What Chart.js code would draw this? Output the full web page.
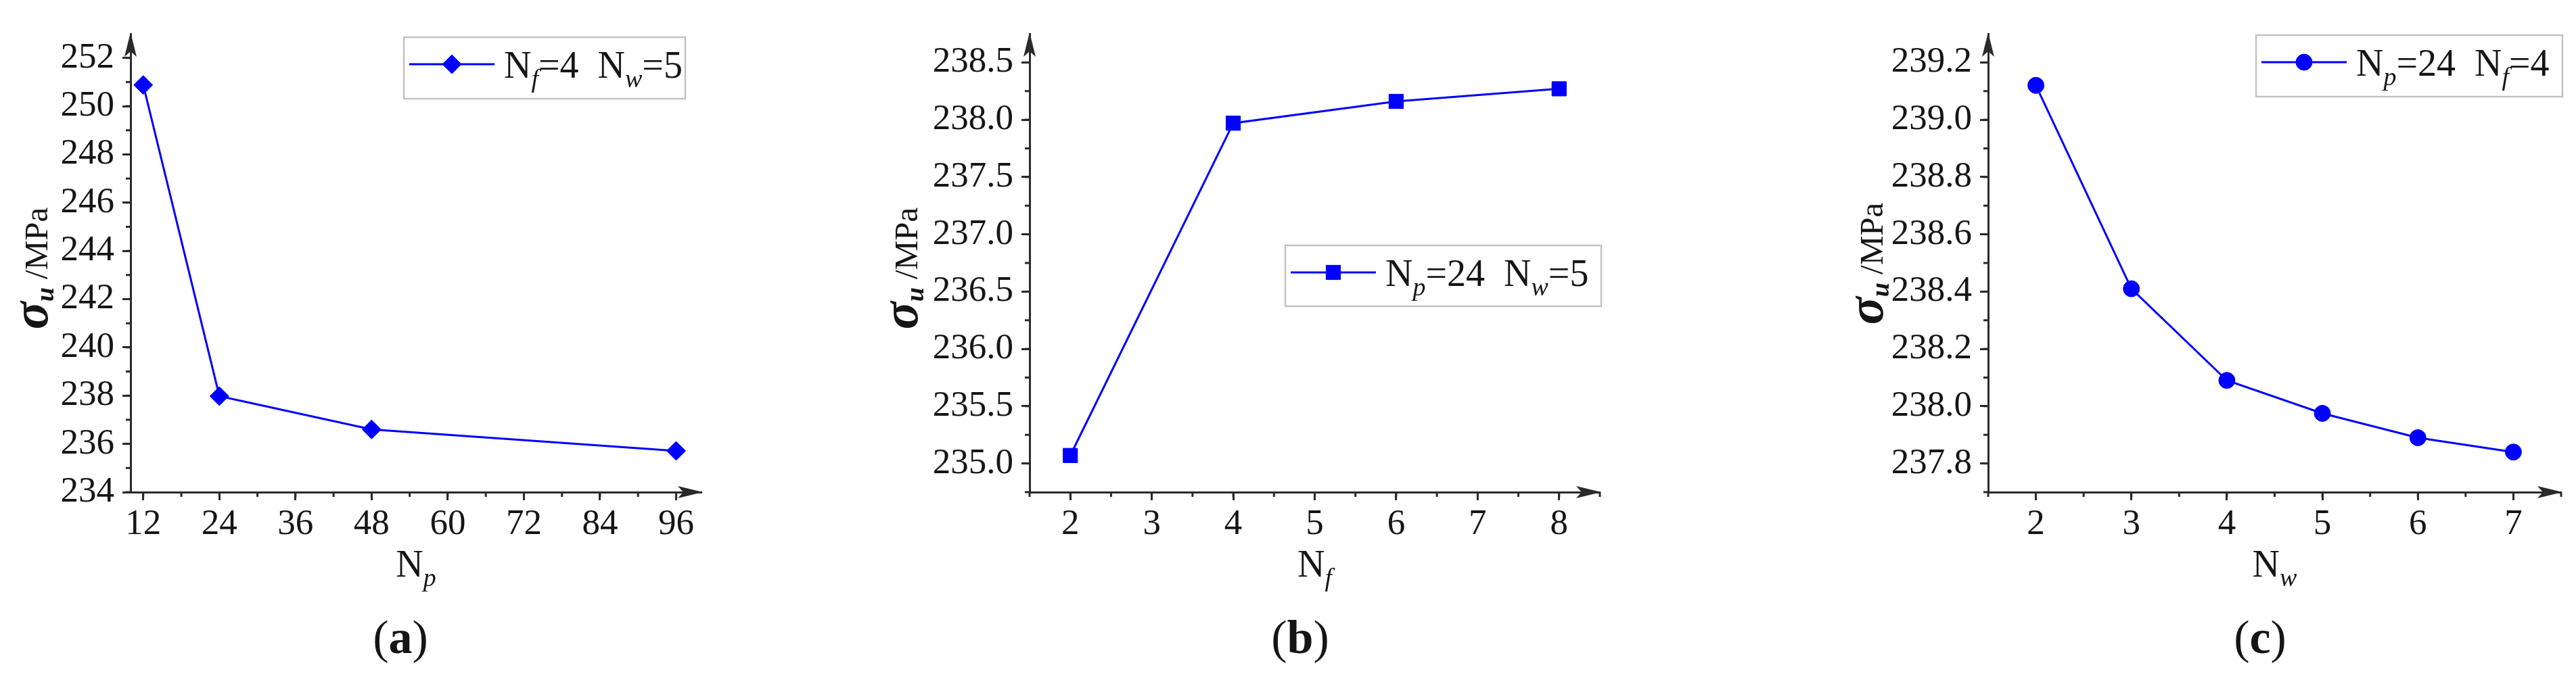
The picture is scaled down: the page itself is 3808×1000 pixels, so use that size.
<!DOCTYPE html>
<html>
<head>
<meta charset="utf-8">
<script src="https://cdn.jsdelivr.net/npm/chart.js@4.4.0/dist/chart.umd.min.js"></script>
<style>
    html, body { margin: 0; padding: 0; background: #fff; }
    #wrap { position: relative; width: 3808px; height: 1000px; }
    canvas { position: absolute; top: 0; }
</style>
</head>
<body>
<div id="wrap">
    <canvas id="chartA" width="1270" height="1000" style="left:0px"></canvas>
    <canvas id="chartB" width="1270" height="1000" style="left:1270px"></canvas>
    <canvas id="chartC" width="1268" height="1000" style="left:2540px"></canvas>
</div>
<script>
// (a) sigma_u vs N_p
var npValues = [12, 24, 48, 96]
var sigmaByNp = [250.88, 237.98, 236.6, 235.71]
var npTicks = [12, 24, 36, 48, 60, 72, 84, 96]
var sigmaTicksA = [234, 236, 238, 240, 242, 244, 246, 248, 250, 252]

// (b) sigma_u vs N_f
var nfValues = [2, 4, 6, 8]
var sigmaByNf = [235.07, 237.97, 238.16, 238.27]
var nfTicks = [2, 3, 4, 5, 6, 7, 8]
var sigmaTicksB = [235.0, 235.5, 236.0, 236.5, 237.0, 237.5, 238.0, 238.5]

// (c) sigma_u vs N_w
var nwValues = [2, 3, 4, 5, 6, 7]
var sigmaByNw = [239.12, 238.41, 238.09, 237.975, 237.89, 237.84]
var nwTicks = [2, 3, 4, 5, 6, 7]
var sigmaTicksC = [237.8, 238.0, 238.2, 238.4, 238.6, 238.8, 239.0, 239.2]

// legend / axis texts: [text, kind]  kind '' = normal, 'sub' = italic subscript
var legendA = [['N', ''], ['f', 'sub'], ['=4  N', ''], ['w', 'sub'], ['=5', '']]
var legendB = [['N', ''], ['p', 'sub'], ['=24  N', ''], ['w', 'sub'], ['=5', '']]
var legendC = [['N', ''], ['p', 'sub'], ['=24  N', ''], ['f', 'sub'], ['=4', '']]
var xTitleA = [['N', ''], ['p', 'sub']]
var xTitleB = [['N', ''], ['f', 'sub']]
var xTitleC = [['N', ''], ['w', 'sub']]
var yTitle = [['\u03c3', 'sigma'], ['u', 'usub'], [' /MPa', 'mpa']]

var BLUE = '#0000ff'
var AXIS = '#2a2a2a'
var TEXT = '#151515'
var SERIF = '"Liberation Serif", "Times New Roman", serif'

function fontFor(kind, size) {
    if (kind === 'sub') return 'italic ' + Math.round(size * 0.68) + 'px ' + SERIF
    if (kind === 'sigma') return 'bold italic 76px ' + SERIF
    if (kind === 'usub') return 'bold italic 38px ' + SERIF
    if (kind === 'mpa') return '49px ' + SERIF
    if (kind === 'b') return 'bold ' + size + 'px ' + SERIF
    return size + 'px ' + SERIF
}

function partsWidth(ctx, parts, size) {
    var w = 0
    parts.forEach(function (p) {
        ctx.font = fontFor(p[1], size)
        w += ctx.measureText(p[0]).width
    })
    return w
}

function drawParts(ctx, parts, x, y, size) {
    var cx = x
    parts.forEach(function (p) {
        ctx.font = fontFor(p[1], size)
        var dy = (p[1] === 'sub') ? size * 0.25 : (p[1] === 'usub' ? 9 : 0)
        ctx.fillText(p[0], cx, y + dy)
        cx += ctx.measureText(p[0]).width
    })
}

function minorTicks(min, max, step) {
    var out = []
    for (var k = Math.ceil(min / step - 1e-9); k <= Math.floor(max / step + 1e-9); k++) out.push(k * step)
    return out
}

// axis arrows, minor ticks, titles, boxed legend
var deco = {
    id: 'deco',
    afterDraw: function (chart, args, o) {
        var ctx = chart.ctx, a = chart.chartArea
        var xs = chart.scales.x, ys = chart.scales.y
        ctx.save()
        ctx.strokeStyle = AXIS
        ctx.fillStyle = AXIS
        ctx.lineWidth = 3

        // minor ticks
        minorTicks(xs.min, xs.max, o.xMinor).forEach(function (v) {
            var px = xs.getPixelForValue(v)
            ctx.beginPath(); ctx.moveTo(px, a.bottom); ctx.lineTo(px, a.bottom + 7); ctx.stroke()
        })
        minorTicks(ys.min, ys.max, o.yMinor).forEach(function (v) {
            var py = ys.getPixelForValue(v)
            if (py < a.top + 30) return
            ctx.beginPath(); ctx.moveTo(a.left, py); ctx.lineTo(a.left - 7, py); ctx.stroke()
        })

        // arrow heads
        ctx.beginPath()
        ctx.moveTo(a.left, a.top - 2)
        ctx.lineTo(a.left + 9, a.top + 34)
        ctx.lineTo(a.left, a.top + 26)
        ctx.lineTo(a.left - 9, a.top + 34)
        ctx.closePath(); ctx.fill()
        ctx.beginPath()
        ctx.moveTo(a.right + 2, a.bottom)
        ctx.lineTo(a.right - 35, a.bottom - 9)
        ctx.lineTo(a.right - 27, a.bottom)
        ctx.lineTo(a.right - 35, a.bottom + 9)
        ctx.closePath(); ctx.fill()

        ctx.fillStyle = TEXT
        ctx.textBaseline = 'alphabetic'
        ctx.textAlign = 'left'

        // x title
        var xw = partsWidth(ctx, o.xTitle, 56)
        drawParts(ctx, o.xTitle, (a.left + a.right) / 2 - xw / 2, 853, 56)

        // y title (rotated)
        ctx.save()
        ctx.translate(o.yTitleX, o.yTitleCY)
        ctx.rotate(-Math.PI / 2)
        var yw = partsWidth(ctx, yTitle, 54)
        drawParts(ctx, yTitle, -yw / 2, 0, 54)
        ctx.restore()

        // sub caption
        var capParts = [['(', ''], [o.caption, 'b'], [')', '']]
        var cw = partsWidth(ctx, capParts, 70)
        drawParts(ctx, capParts, o.captionX - cw / 2, 966, 70)

        // legend
        var L = o.legend
        ctx.strokeStyle = '#c2c2c2'
        ctx.lineWidth = 2.5
        ctx.strokeRect(L.x, L.y, L.w, L.h)
        ctx.strokeStyle = BLUE
        ctx.lineWidth = 3
        ctx.beginPath(); ctx.moveTo(L.x + 8, L.y + 40); ctx.lineTo(L.x + 134, L.y + 40); ctx.stroke()
        var ds = chart.data.datasets[0]
        ctx.fillStyle = BLUE
        ctx.lineWidth = 1
        Chart.helpers.drawPoint(ctx, { pointStyle: ds.pointStyle, radius: ds.pointRadius, borderWidth: 1, rotation: 0 }, L.x + 71, L.y + 40)
        ctx.fillStyle = TEXT
        drawParts(ctx, o.legendParts, L.x + 148, L.y + 60, 56)
        ctx.restore()
    }
}

var Y_BOX = 185

function makeChart(id, xVals, yVals, cfg) {
    var points = xVals.map(function (x, i) { return { x: x, y: yVals[i] } })
    return new Chart(document.getElementById(id), {
        type: 'line',
        data: {
            datasets: [{
                data: points,
                borderColor: BLUE,
                backgroundColor: BLUE,
                borderWidth: 3,
                pointStyle: cfg.pointStyle,
                pointRadius: cfg.pointRadius,
                pointBorderWidth: 1,
                pointBorderColor: BLUE,
                pointBackgroundColor: BLUE,
                tension: 0,
                clip: false
            }]
        },
        options: {
            responsive: false,
            animation: false,
            events: [],
            layout: { padding: { left: cfg.left - Y_BOX, right: cfg.width - cfg.right, top: 50, bottom: 1000 - 728 - 120 } },
            plugins: { legend: { display: false }, tooltip: { enabled: false }, deco: cfg },
            scales: {
                x: {
                    type: 'linear', bounds: 'data',
                    min: cfg.xRange[0], max: cfg.xRange[1],
                    afterBuildTicks: function (s) { s.ticks = cfg.xTicks.map(function (v) { return { value: v } }) },
                    afterFit: function (s) { s.height = 120; s.paddingLeft = 0; s.paddingRight = 0 },
                    grid: { display: true, drawOnChartArea: false, drawTicks: true, tickLength: 12, tickWidth: 3, tickColor: AXIS },
                    border: { display: true, color: AXIS, width: 3 },
                    ticks: {
                        color: TEXT, font: { family: SERIF, size: 53 }, padding: 4,
                        maxRotation: 0, autoSkip: false,
                        callback: function (v) { return String(v) }
                    }
                },
                y: {
                    type: 'linear', bounds: 'data',
                    min: cfg.yRange[0], max: cfg.yRange[1],
                    afterBuildTicks: function (s) { s.ticks = cfg.yTicks.map(function (v) { return { value: v } }) },
                    afterFit: function (s) { s.width = Y_BOX; s.paddingTop = 0; s.paddingBottom = 0 },
                    grid: { display: true, drawOnChartArea: false, drawTicks: true, tickLength: 12, tickWidth: 3, tickColor: AXIS },
                    border: { display: true, color: AXIS, width: 3 },
                    ticks: {
                        color: TEXT, font: { family: SERIF, size: 53 }, padding: 12,
                        autoSkip: false,
                        callback: function (v) { return Number(v).toFixed(cfg.yDec) }
                    }
                }
            }
        },
        plugins: [deco]
    })
}

makeChart('chartA', npValues, sigmaByNp, {
    width: 1270, left: 193, right: 1037,
    xRange: [10, 100], yRange: [234, 253], xTicks: npTicks, yTicks: sigmaTicksA, yDec: 0,
    xMinor: 6, yMinor: 1, pointStyle: 'rectRot', pointRadius: 14,
    xTitle: xTitleA, yTitleX: 70, yTitleCY: 397, caption: 'a', captionX: 592,
    legend: { x: 597, y: 55, w: 416, h: 91 }, legendParts: legendA
})

makeChart('chartB', nfValues, sigmaByNf, {
    width: 1270, left: 252, right: 1095,
    xRange: [1.5, 8.5], yRange: [234.75, 238.75], xTicks: nfTicks, yTicks: sigmaTicksB, yDec: 1,
    xMinor: 0.5, yMinor: 0.25, pointStyle: 'rect', pointRadius: 15,
    xTitle: xTitleB, yTitleX: 86, yTitleCY: 397, caption: 'b', captionX: 652,
    legend: { x: 630, y: 363, w: 467, h: 90 }, legendParts: legendB
})

makeChart('chartC', nwValues, sigmaByNw, {
    width: 1268, left: 399, right: 1246,
    xRange: [1.5, 7.5], yRange: [237.7, 239.3], xTicks: nwTicks, yTicks: sigmaTicksC, yDec: 1,
    xMinor: 0.5, yMinor: 0.1, pointStyle: 'circle', pointRadius: 12,
    xTitle: xTitleC, yTitleX: 243, yTitleCY: 390, caption: 'c', captionX: 801,
    legend: { x: 795, y: 52, w: 453, h: 91 }, legendParts: legendC
})
</script>
</body>
</html>
